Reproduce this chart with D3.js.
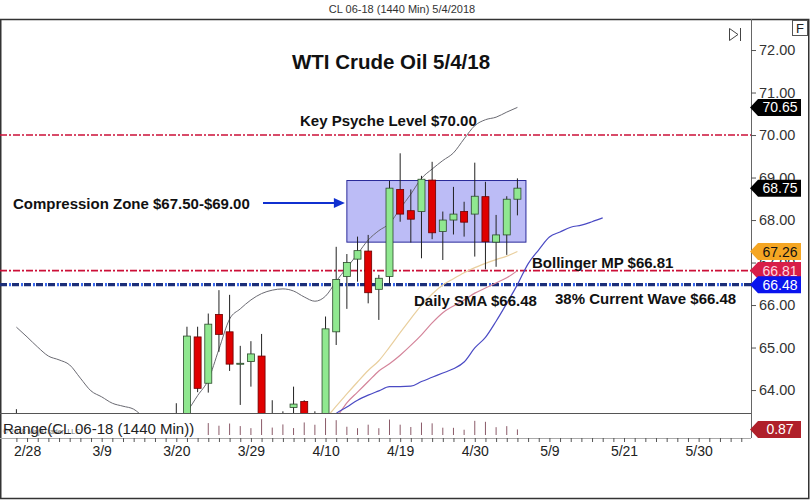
<!DOCTYPE html>
<html><head><meta charset="utf-8">
<script src="https://cdnjs.cloudflare.com/ajax/libs/d3/7.8.5/d3.min.js"></script>
<style>
body{margin:0;background:#fff;}
svg{display:block;font-family:Arial,"Liberation Sans",sans-serif;}
</style>
</head><body>
<svg id="c" width="810" height="500"></svg>
<script>
// ---------------- DATA ----------------
const dates = ["2/27","2/28","3/1","3/2","3/5","3/6","3/7","3/8","3/9","3/12","3/13","3/14","3/15","3/16","3/19","3/20",
  "3/21","3/22","3/23","3/26","3/27","3/28","3/29","4/2","4/3","4/4","4/5","4/6","4/9","4/10","4/11","4/12","4/13",
  "4/16","4/17","4/18","4/19","4/20","4/23","4/24","4/25","4/26","4/27","4/30","5/1","5/2","5/3","5/4"];
const futureDates = ["5/7","5/8","5/9","5/10","5/11","5/14","5/15","5/16","5/17","5/21","5/22","5/23","5/24","5/25",
  "5/28","5/29","5/30","5/31","6/1","6/4","6/5"];
const openP  = [63.3,62.6,61.5,60.6,61.1,62.2,62.3,61.0,60.4,61.8,61.3,60.6,60.9,61.1,62.1,62.0,
  63.35,65.25,64.16,65.78,65.37,64.63,64.67,64.80,62.95,63.3,63.59,63.73,62.0,63.3,65.37,66.67,67.08,
  67.27,66.37,66.67,68.72,68.22,68.20,68.94,67.73,68.00,68.20,68.14,68.55,67.48,67.65,68.49];
const highP  = [63.55,62.8,61.7,61.3,62.3,62.6,62.4,61.4,62.0,62.1,61.8,61.3,61.4,62.3,62.4,63.69,
  65.49,65.49,65.80,66.35,66.24,65.04,65.15,65.32,63.76,63.5,64.08,63.76,63.5,65.73,67.37,67.20,67.61,
  67.65,66.71,68.92,69.57,68.72,69.04,69.37,68.20,68.78,68.43,69.35,68.90,68.12,68.56,68.98];
const lowP   = [62.4,61.4,60.2,60.1,60.8,61.8,60.9,60.2,60.3,61.2,60.5,60.4,60.6,61.0,61.4,61.9,
  63.2,63.95,63.94,64.90,64.45,63.65,64.08,62.85,62.6,61.85,63.0,61.8,61.9,63.1,65.06,65.91,66.55,
  66.04,65.65,66.51,67.96,67.47,67.10,67.55,67.06,67.66,67.61,67.14,66.84,66.90,67.18,68.11];
const closeP = [62.6,61.5,60.7,61.1,62.2,62.3,61.0,60.4,61.8,61.3,60.6,60.9,61.1,62.1,61.9,63.35,
  65.27,64.04,65.55,65.31,64.61,64.63,64.85,62.95,63.35,63.25,63.67,61.95,63.35,65.44,66.60,67.00,67.28,
  66.29,66.63,68.75,68.14,68.02,68.96,67.70,68.00,68.14,67.95,68.56,67.49,67.65,68.49,68.75];
// Bollinger upper band (one value per bar)
const upperBand = [65.48,65.25,65.01,64.80,64.71,64.59,64.28,63.98,63.84,63.69,63.62,63.55,63.35,63.2,63.15,63.3,
  63.5,63.87,64.24,64.96,65.67,65.91,66.12,66.27,66.35,66.38,66.33,66.19,66.09,66.21,66.56,66.88,67.2,
  67.53,67.75,67.92,68.27,68.61,68.98,69.2,69.40,69.58,69.91,70.22,70.36,70.42,70.54,70.65];
// Bollinger mid point (from 4/10)
const bbMidStart = "4/10";
const bbMid = [63.1,63.35,63.7,63.95,64.2,64.45,64.62,64.82,65.05,65.3,65.58,65.82,65.98,66.12,66.28,66.4,66.52,66.64,66.81];
// tan moving average (from 4/9)
const smaStart = "4/9";
const sma = [63.05,63.33,63.62,63.91,64.19,64.46,64.69,65.01,65.35,65.68,66.0,66.26,66.47,66.62,66.76,66.88,66.98,67.07,67.15,67.26];
// blue displaced average (from 4/10, runs past the last bar)
const dmaStart = "4/10";
const dma = [63.2,63.45,63.6,63.76,63.88,63.98,64.08,64.08,64.09,64.2,64.3,64.4,64.5,64.66,64.99,65.24,65.62,66.04,66.48,
  66.97,67.3,67.6,67.72,67.83,67.88,67.96,68.05];
const axisLabels = ["2/28","3/9","3/20","3/29","4/10","4/19","4/30","5/9","5/21","5/30"];
const priceTicks = [64,65,66,67,68,69,70,71,72];
const keyLevel = 70.00;
const mpLevel = 66.81;
const smaLevel = 66.48;
const zone = [67.48, 68.93];
const zoneFrom = "4/12", zoneTo = "5/4";
const rangeMax = 2.7;

// ---------------- LAYOUT ----------------
const svg = d3.select("#c");
const plotR = 751, plotT = 19, priceB = 413, rangeBase = 435, axisY = 438;
const slots = dates.concat(futureDates);
const step = 10.66;
const x = d3.scalePoint().domain(slots).range([16.4, 16.4 + (slots.length - 1) * step]);
const y = d3.scaleLinear().domain([63.46, 72.73]).range([priceB, plotT]);
const ry = d3.scaleLinear().domain([0, rangeMax]).range([rangeBase, 417.7]);

// frame
svg.append("rect").attr("x", 0.75).attr("y", 19.5).attr("width", 808).attr("height", 479)
  .attr("fill", "#fff").attr("stroke", "#333").attr("stroke-width", 1.5);
svg.append("text").attr("x", 402).attr("y", 13).attr("text-anchor", "middle")
  .attr("font-size", 11).attr("fill", "#333").text("CL 06-18 (1440 Min)  5/4/2018");

svg.append("defs").append("clipPath").attr("id", "pc")
  .append("rect").attr("x", 0).attr("y", plotT).attr("width", plotR).attr("height", priceB - plotT);
const P = svg.append("g").attr("clip-path", "url(#pc)");

// compression zone
P.append("rect")
  .attr("x", x(zoneFrom)).attr("y", y(zone[1]))
  .attr("width", x(zoneTo) + step * 0.8 - x(zoneFrom)).attr("height", y(zone[0]) - y(zone[1]))
  .attr("fill", "#bcbcf6").attr("stroke", "#2a2a9a").attr("stroke-width", 1);

// level lines
function hline(v, color, w, dash, off) {
  P.append("line").attr("x1", 0).attr("x2", plotR).attr("y1", y(v)).attr("y2", y(v))
    .attr("stroke", color).attr("stroke-width", w).attr("stroke-dasharray", dash)
    .attr("stroke-dashoffset", off || 0);
}
hline(keyLevel, "#cc1038", 1.6, "7,2,2,2");
hline(mpLevel, "#cc1038", 1.6, "7,2,2,2");
hline(smaLevel, "#1c2e78", 3.2, "7,5");
hline(smaLevel, "#3a6af0", 3.2, "2,10", -9);

// indicator lines
const line = d3.line().defined(d => d.v != null).x(d => x(d.s)).y(d => y(d.v)).curve(d3.curveMonotoneX);
function series(vals, start) {
  const i0 = slots.indexOf(start);
  return vals.map((v, k) => ({ s: slots[i0 + k], v }));
}
P.append("path").datum(series(upperBand, dates[0])).attr("d", line)
  .attr("fill", "none").attr("stroke", "#6a6a72").attr("stroke-width", 1);
P.append("path").datum(series(sma, smaStart)).attr("d", line)
  .attr("fill", "none").attr("stroke", "#e9cf9e").attr("stroke-width", 1.2);
P.append("path").datum(series(bbMid, bbMidStart)).attr("d", line)
  .attr("fill", "none").attr("stroke", "#d4849a").attr("stroke-width", 1.2);
P.append("path").datum(series(dma, dmaStart)).attr("d", line)
  .attr("fill", "none").attr("stroke", "#4a4ac4").attr("stroke-width", 1.2);

// candles
const candles = dates.map((d, i) => ({ d, o: openP[i], h: highP[i], l: lowP[i], c: closeP[i] }));
const cg = P.selectAll("g.c").data(candles).join("g");
cg.append("line").attr("x1", d => x(d.d)).attr("x2", d => x(d.d))
  .attr("y1", d => y(d.h)).attr("y2", d => y(d.l)).attr("stroke", "#222").attr("stroke-width", 1);
cg.append("rect")
  .attr("x", d => x(d.d) - 3.5).attr("width", 7)
  .attr("y", d => y(Math.max(d.o, d.c)))
  .attr("height", d => Math.max(1, Math.abs(y(d.o) - y(d.c))))
  .attr("fill", d => d.c >= d.o ? "#90e890" : "#e00000")
  .attr("stroke", d => d.c >= d.o ? "#2c4a2c" : "#6a0000").attr("stroke-width", 0.8);

// annotations
svg.append("text").attr("x", 391).attr("y", 69).attr("text-anchor", "middle")
  .attr("font-size", 20.5).attr("font-weight", "bold").attr("fill", "#111").text("WTI Crude Oil 5/4/18");
function note(t, xx, yy) {
  svg.append("text").attr("x", xx).attr("y", yy).attr("font-size", 15).attr("font-weight", "bold")
    .attr("fill", "#111").text(t);
}
note("Key Psyche Level $70.00", 300, 125.5);
note("Compression Zone $67.50-$69.00", 13, 208.5);
note("Bollinger MP $66.81", 532, 267.5);
note("Daily SMA $66.48", 414, 305.5);
note("38% Current Wave $66.48", 555, 303.5);
// arrow
svg.append("line").attr("x1", 263).attr("x2", x(zoneFrom) - 10).attr("y1", 203).attr("y2", 203)
  .attr("stroke", "#1030d0").attr("stroke-width", 2);
svg.append("path").attr("d", `M${x(zoneFrom) - 2},203 L${x(zoneFrom) - 13},198 L${x(zoneFrom) - 13},208 Z`)
  .attr("fill", "#1030d0");

// panel borders
svg.append("line").attr("x1", 0).attr("x2", plotR).attr("y1", priceB + 0.5).attr("y2", priceB + 0.5)
  .attr("stroke", "#555");
svg.append("line").attr("x1", plotR + 0.5).attr("x2", plotR + 0.5).attr("y1", plotT).attr("y2", axisY)
  .attr("stroke", "#666");
svg.append("line").attr("x1", 0).attr("x2", plotR).attr("y1", axisY + 0.5).attr("y2", axisY + 0.5)
  .attr("stroke", "#aaa");

// range histogram
svg.selectAll("line.r").data(candles).join("line").attr("class", "r")
  .attr("x1", d => x(d.d)).attr("x2", d => x(d.d))
  .attr("y1", rangeBase).attr("y2", d => ry(d.h - d.l))
  .attr("stroke", "#8a5a68").attr("stroke-width", 1);
svg.append("rect").attr("x", 2).attr("y", 416).attr("width", 197).attr("height", 20).attr("fill", "#fff");
svg.append("text").attr("x", 3).attr("y", 434).attr("font-size", 7).attr("fill", "#777")
  .text("© 2018 NinjaTrader, LLC");
svg.append("text").attr("x", 3).attr("y", 434).attr("font-size", 15).attr("fill", "#222")
  .text("Range(CL 06-18 (1440 Min))");

// right price axis
const ya = svg.append("g").attr("transform", `translate(${plotR},0)`)
  .call(d3.axisRight(y).tickValues(priceTicks).tickFormat(d3.format(".2f")).tickSize(5).tickPadding(3));
ya.select(".domain").remove();
ya.selectAll("text").attr("font-size", 14.5).attr("fill", "#333").attr("font-family", "Arial, 'Liberation Sans', sans-serif");
ya.selectAll("line").attr("stroke", "#555");

// bottom date axis
const xa = svg.append("g").attr("transform", `translate(0,${axisY})`)
  .call(d3.axisBottom(x).tickValues(slots).tickSize(4).tickPadding(4)
    .tickFormat(d => axisLabels.includes(d) ? d : ""));
xa.select(".domain").remove();
xa.selectAll("text").attr("font-size", 14).attr("fill", "#222").attr("font-family", "Arial, 'Liberation Sans', sans-serif");
xa.selectAll("line").attr("stroke", "#555");

// value flags
function flag(yv, fill, tcol, label) {
  const g = svg.append("g");
  g.append("path").attr("d",
    `M${plotR - 1},${yv} L${plotR + 7},${yv - 8.5} L${plotR + 50},${yv - 8.5} L${plotR + 50},${yv + 8.5} L${plotR + 7},${yv + 8.5} Z`)
    .attr("fill", fill);
  g.append("text").attr("x", plotR + 29).attr("y", yv).attr("dy", "0.36em").attr("text-anchor", "middle")
    .attr("font-size", 14).attr("fill", tcol).text(label);
}
const last = dates.length - 1;
const fmt = d3.format(".2f");
flag(y(upperBand[last]), "#000", "#fff", fmt(upperBand[last]));
flag(y(closeP[last]), "#000", "#fff", fmt(closeP[last]));
flag(y(sma[sma.length - 1]), "#f5a623", "#111", fmt(sma[sma.length - 1]));
flag(y(bbMid[bbMid.length - 1]), "#d81e48", "#ffd6e2", fmt(bbMid[bbMid.length - 1]));
const dmaLast = dma[slots.indexOf(dates[last]) - slots.indexOf(dmaStart)];
flag(y(dmaLast), "#0a14ee", "#fff", fmt(dmaLast));
const lastRange = highP[last] - lowP[last];
flag(ry(lastRange), "#b0202a", "#fff", fmt(lastRange));

// toolbar icons
svg.append("rect").attr("x", 792.5).attr("y", 20.5).attr("width", 15).attr("height", 15)
  .attr("fill", "#fff").attr("stroke", "#555");
svg.append("text").attr("x", 800).attr("y", 33).attr("text-anchor", "middle").attr("font-size", 13).attr("fill", "#222").text("F");
svg.append("path").attr("d", "M729.5,28.5 L738,34.5 L729.5,40.5 Z").attr("fill", "none").attr("stroke", "#444");
svg.append("line").attr("x1", 740.5).attr("x2", 740.5).attr("y1", 28).attr("y2", 41).attr("stroke", "#444");
</script>
</body></html>
